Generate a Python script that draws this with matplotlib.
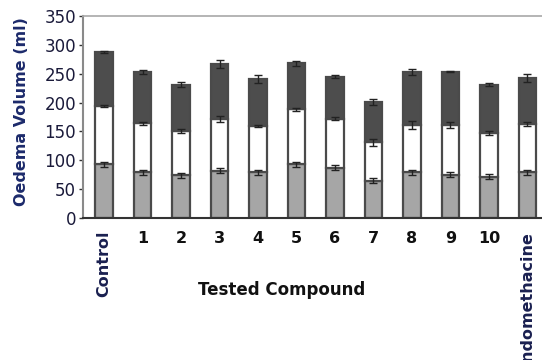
import matplotlib
matplotlib.use("Agg")
import matplotlib.pyplot as plt
import numpy as np

categories = ["Control", "1", "2", "3", "4", "5", "6", "7", "8", "9", "10", "Indomethacine"]
# cumulative tops
tops_low = [93, 79.5, 74, 82, 79.5, 93, 87.5, 65, 79.5, 75, 72, 79.5]
tops_mid = [194, 164, 151, 172, 160, 188, 172, 131, 161, 161, 147, 163]
tops_high = [287, 253, 231, 266, 241, 268, 245, 201, 253, 253, 231, 242]
err_low = [4, 4, 4, 4, 4, 4, 5, 4, 4, 4, 4, 4]
err_mid = [2, 2, 4, 5, 2, 2, 3, 6, 7, 5, 4, 3]
err_high = [2, 3, 4, 7, 7, 4, 2, 5, 5, 1, 3, 7]

seg_low = np.array(tops_low)
seg_mid = np.array(tops_mid) - np.array(tops_low)
seg_high = np.array(tops_high) - np.array(tops_mid)

fig = plt.figure(figsize=(5.42, 3.6), dpi=100)
ax = fig.add_axes([0.153, 0.394, 0.847, 0.562])

x = np.arange(len(categories))
w = 0.45
edge = "#4a4a4a"
ax.bar(x, seg_low, w, color="#a6a6a6", edgecolor=edge, linewidth=1.6, zorder=2)
ax.bar(x, seg_mid, w, bottom=seg_low, color="white", edgecolor=edge, linewidth=1.6, zorder=2)
ax.bar(x, seg_high, w, bottom=seg_low + seg_mid, color="#4d4d4d", edgecolor=edge, linewidth=1.6, zorder=2)
for tops, errs in ((tops_low, err_low), (tops_mid, err_mid), (tops_high, err_high)):
    ax.errorbar(x, tops, yerr=errs, fmt="none", ecolor="#222222", elinewidth=1.0,
                capsize=3, capthick=1.0, zorder=3)

ax.set_ylim(0, 350)
ax.set_yticks(np.arange(0, 351, 50))
ax.set_xlim(-0.55, 11.38)
ax.set_xticks(x)
ax.set_xticklabels([])

for i, lab in enumerate(categories):
    if len(lab) > 2:
        ax.text(i, -22, lab, rotation=90, ha="center", va="top", fontsize=11.5,
                fontweight="bold", color="#1a2050", family="DejaVu Sans",
                transform=ax.transData, clip_on=False)
    else:
        ax.text(i, -22, lab, ha="center", va="top", fontsize=11.5,
                fontweight="bold", color="#111111", family="DejaVu Sans",
                clip_on=False)

ax.tick_params(axis="y", labelsize=12, colors="#333333", labelcolor="#1a1a3a",
               length=3, width=1, pad=2)
ax.tick_params(axis="x", length=0)
for lab in ax.get_yticklabels():
    lab.set_family("DejaVu Sans")

ax.spines["top"].set_color("#a8a8a8")
ax.spines["top"].set_linewidth(1.2)
ax.spines["right"].set_visible(False)
ax.spines["left"].set_color("#8a8a8a")
ax.spines["left"].set_linewidth(1.5)
ax.spines["bottom"].set_color("#333333")
ax.spines["bottom"].set_linewidth(1.5)

fig.text(0.040, 0.69, "Oedema Volume (ml)", rotation=90, ha="center", va="center",
         fontsize=11.5, fontweight="bold", color="#1c2a6b", family="DejaVu Sans")
fig.text(0.520, 0.195, "Tested Compound", ha="center", va="center",
         fontsize=12, fontweight="bold", color="#111111", family="DejaVu Sans")

fig.savefig("out.png", dpi=100)
